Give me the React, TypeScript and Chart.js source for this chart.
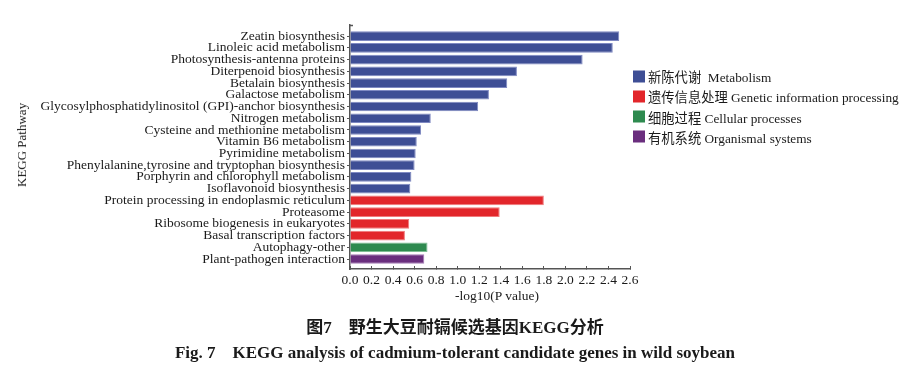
import React, { useEffect, useRef } from "react";
import { Chart, registerables } from "chart.js";

Chart.register(...registerables);

const categories: string[] = [
  "Zeatin biosynthesis",
  "Linoleic acid metabolism",
  "Photosynthesis-antenna proteins",
  "Diterpenoid biosynthesis",
  "Betalain biosynthesis",
  "Galactose metabolism",
  "Glycosylphosphatidylinositol (GPI)-anchor biosynthesis",
  "Nitrogen metabolism",
  "Cysteine and methionine metabolism",
  "Vitamin B6 metabolism",
  "Pyrimidine metabolism",
  "Phenylalanine,tyrosine and tryptophan biosynthesis",
  "Porphyrin and chlorophyll metabolism",
  "Isoflavonoid biosynthesis",
  "Protein processing in endoplasmic reticulum",
  "Proteasome",
  "Ribosome biogenesis in eukaryotes",
  "Basal transcription factors",
  "Autophagy-other",
  "Plant-pathogen interaction",
];

const values: number[] = [
  2.5, 2.44, 2.16, 1.55, 1.46, 1.29, 1.19, 0.75, 0.66, 0.62, 0.61, 0.6, 0.57,
  0.56, 1.8, 1.39, 0.55, 0.51, 0.72, 0.69,
];

// group index of each category (0 metabolism, 1 genetic, 2 cellular, 3 organismal)
const groups: number[] = [
  0, 0, 0, 0, 0, 0, 0, 0, 0, 0, 0, 0, 0, 0, 1, 1, 1, 1, 2, 3,
];

const groupLabels: string[] = [
  "新陈代谢  Metabolism",
  "遗传信息处理 Genetic information processing",
  "细胞过程 Cellular processes",
  "有机系统 Organismal systems",
];

const groupColors: string[] = ["#3e4e95", "#e2262b", "#2e8a4f", "#6a2e7e"];
const groupEdges: string[] = ["#7f89c2", "#f07a7c", "#7fbf95", "#a57bb6"];

const xTicks: number[] = [0, 0.2, 0.4, 0.6, 0.8, 1.0, 1.2, 1.4, 1.6, 1.8, 2.0, 2.2, 2.4, 2.6];

const xTitle = "-log10(P value)";
const yTitle = "KEGG Pathway";
const captionCn = "图7\u3000野生大豆耐镉候选基因KEGG分析";
const captionEn = "Fig. 7\u2002\u2002KEGG analysis of cadmium-tolerant candidate genes in wild soybean";

const SERIF = "'Liberation Serif', 'Times New Roman', 'Noto Sans CJK SC', serif";

const axisTopTick = {
  id: "axisTopTick",
  afterDraw(chart: any) {
    const { ctx, chartArea } = chart;
    ctx.save();
    ctx.strokeStyle = "#555";
    ctx.lineWidth = 1.5;
    ctx.beginPath();
    ctx.moveTo(chartArea.left - 0.75, chartArea.top + 0.5);
    ctx.lineTo(chartArea.left + 3, chartArea.top + 0.5);
    ctx.stroke();
    ctx.restore();
  },
};

export default function App() {
  const ref = useRef<HTMLCanvasElement | null>(null);

  useEffect(() => {
    if (!ref.current) return;
    const chart = new Chart(ref.current, {
      type: "bar",
      data: {
        datasets: [
          {
            data: categories.map((_, i) => ({ x: values[i], y: i })),
            backgroundColor: groups.map((g) => groupColors[g]),
            borderColor: groups.map((g) => groupEdges[g]),
            borderWidth: 1,
            barPercentage: 0.82,
            categoryPercentage: 1,
          },
        ],
      },
      options: {
        indexAxis: "y",
        responsive: false,
        animation: false,
        devicePixelRatio: 1,
        layout: { padding: { top: 25, right: 278, left: 0, bottom: 0 } },
        plugins: { legend: { display: false }, tooltip: { enabled: false } },
        scales: {
          x: {
            type: "linear",
            min: 0,
            max: 2.6,
            offset: false,
            afterBuildTicks: (s: any) => {
              s.ticks = xTicks.map((v) => ({ value: v }));
            },
            afterFit: (s: any) => {
              s.height = 108;
              s.paddingLeft = 0;
              s.paddingRight = 0;
            },
            ticks: {
              autoSkip: false,
              maxRotation: 0,
              padding: 6,
              color: "#1a1a1a",
              font: { family: SERIF, size: 13.5 },
              callback: (v: any) => Number(v).toFixed(1),
            },
            grid: {
              display: true,
              offset: false,
              drawOnChartArea: false,
              drawTicks: true,
              tickLength: -3,
              color: "#555",
              lineWidth: 1,
            },
            border: { display: true, color: "#555", width: 1.5 },
          },
          y: {
            type: "linear",
            reverse: true,
            offset: false,
            min: -0.95,
            max: 19.85,
            afterBuildTicks: (s: any) => {
              s.ticks = categories.map((_, i) => ({ value: i }));
            },
            afterFit: (s: any) => {
              s.width = 350;
              s.paddingTop = 0;
              s.paddingBottom = 0;
            },
            ticks: {
              autoSkip: false,
              padding: 2,
              color: "#1a1a1a",
              font: { family: SERIF, size: 13.5 },
              callback: (v: any) => categories[Math.round(Number(v))] ?? "",
            },
            grid: {
              display: true,
              offset: false,
              drawOnChartArea: false,
              drawTicks: true,
              tickLength: 3,
              color: "#555",
              lineWidth: 1,
            },
            border: { display: true, color: "#555", width: 1.5 },
          },
        },
      },
      plugins: [axisTopTick],
    } as any);
    return () => chart.destroy();
  }, []);

  const textColor = "#1a1a1a";

  return (
    <div
      style={{
        position: "fixed",
        left: 0,
        top: 0,
        width: 908,
        height: 377,
        background: "#fff",
        overflow: "hidden",
        fontFamily: SERIF,
        color: textColor,
      }}
    >
      <canvas ref={ref} width={908} height={377} style={{ position: "absolute", left: 0, top: 0, width: 908, height: 377 }} />
      <div
        style={{
          position: "absolute",
          left: 22,
          top: 145,
          transform: "translate(-50%, -50%) rotate(-90deg)",
          fontSize: 13,
          fontWeight: "normal",
          whiteSpace: "nowrap",
        }}
      >
        {yTitle}
      </div>
      <div
        style={{
          position: "absolute",
          left: 497,
          top: 296,
          transform: "translate(-50%, -50%)",
          fontSize: 13.5,
          whiteSpace: "nowrap",
        }}
      >
        {xTitle}
      </div>
      {groupLabels.map((lab, i) => (
        <div
          key={lab}
          style={{
            position: "absolute",
            left: 633,
            top: 76 + i * 20.3,
            transform: "translateY(-50%)",
            display: "flex",
            alignItems: "center",
            fontSize: 13.3,
            whiteSpace: "pre",
          }}
        >
          <span style={{ display: "inline-block", width: 12, height: 12, background: groupColors[i], marginRight: 3 }} />
          <span>{lab}</span>
        </div>
      ))}
      <div
        style={{
          position: "absolute",
          left: 455,
          top: 325,
          transform: "translate(-50%, -50%)",
          fontSize: 17,
          fontWeight: "bold",
          whiteSpace: "pre",
        }}
      >
        {captionCn}
      </div>
      <div
        style={{
          position: "absolute",
          left: 455,
          top: 353,
          transform: "translate(-50%, -50%)",
          fontSize: 17,
          fontWeight: "bold",
          whiteSpace: "pre",
        }}
      >
        {captionEn}
      </div>
    </div>
  );
}
